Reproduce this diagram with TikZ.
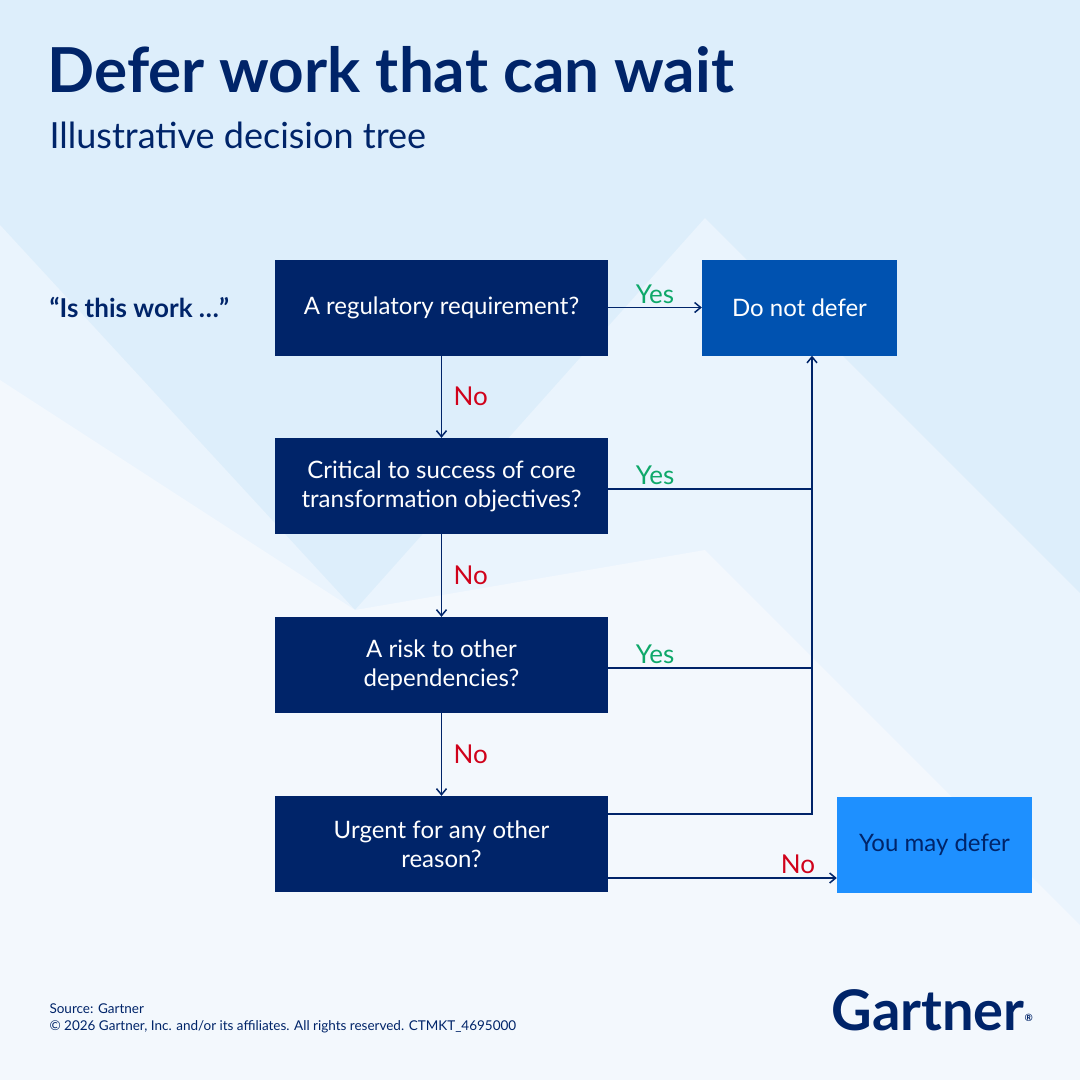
\documentclass[tikz,border=0pt]{standalone}
\usepackage{fontspec}
\setmainfont{Lato}
\usetikzlibrary{arrows.meta}
\definecolor{bgA}{HTML}{DDEEFB}
\definecolor{bgB}{HTML}{EAF4FD}
\definecolor{bgC}{HTML}{F3F8FD}
\definecolor{navy}{HTML}{002469}
\definecolor{midblue}{HTML}{0052B0}
\definecolor{brightblue}{HTML}{1E90FF}
\definecolor{yesc}{HTML}{0FA86A}
\definecolor{noc}{HTML}{D0021B}
\tikzset{
 q/.style={fill=navy,text=white,minimum width=333pt,minimum height=96pt,align=center,font=\fontsize{24}{29}\selectfont,inner sep=0pt},
 res/.style={minimum width=195pt,minimum height=96pt,text=white,font=\fontsize{24}{29}\selectfont,inner sep=0pt},
 con/.style={draw=navy,line width=1.5pt,-{Straight Barb[length=6pt,width=10pt]}},
 ln/.style={draw=navy,line width=1.5pt},
 yl/.style={text=yesc,font=\fontsize{26}{30}\selectfont},
 nl/.style={text=noc,font=\fontsize{26}{30}\selectfont},
}
\begin{document}
\begin{tikzpicture}[x=1pt,y=-1pt]
\fill[bgA] (0,0) rectangle (1080,1080);
\useasboundingbox (0,0) rectangle (1080,1080);
\fill[bgB] (0,225) -- (355,610) -- (705,218) -- (1080,593) -- (1080,1080) -- (0,1080) -- cycle;
\fill[bgC] (0,380) -- (355,610) -- (705,550) -- (1080,925) -- (1080,1080) -- (0,1080) -- cycle;
\node[anchor=west,text=navy,font=\bfseries\fontsize{62}{68}\selectfont] (title) at (44,70) {Defer work that can wait};
\node[anchor=west,text=navy,font=\fontsize{36}{40}\selectfont] (sub) at (46,135) {Illustrative decision tree};
\node[anchor=west,text=navy,font=\bfseries\fontsize{26}{30}\selectfont] (is) at (46,307) {“Is this work …”};
\node[q] (q1) at (441.5,307.5) {A regulatory requirement?};
\node[q] (q2) at (441.5,486) {Critical to success of core\\transformation objectives?};
\node[q] (q3) at (441.5,665) {A risk to other\\dependencies?};
\node[q] (q4) at (441.5,844) {Urgent for any other\\reason?};
\node[res,fill=midblue] (dnd) at (799.5,307.5) {Do not defer};
\node[res,fill=brightblue,text=navy] (ymd) at (934.5,844.5) {You may defer};
\draw[con] (q1.east) -- node[yl,above,pos=0.5] {Yes} (dnd.west);
\draw[con] (q1.south) -- node[nl,right=8pt] {No} (q2.north);
\draw[con] (q2.south) -- node[nl,right=8pt] {No} (q3.north);
\draw[con] (q3.south) -- node[nl,right=8pt] {No} (q4.north);
\coordinate (j2) at (812,489);
\coordinate (j3) at (812,668);
\coordinate (j4) at (812,814);
\draw[ln] (q2.east |- j2) -- node[yl,above,pos=0.23] {Yes} (j2);
\draw[ln] (q3.east |- j3) -- node[yl,above,pos=0.23] {Yes} (j3);
\draw[con] (q4.east |- j4) -- (j4) -- (j4 |- dnd.south);
\coordinate (n4) at (608,878);
\draw[con] (n4) -- node[nl,above,pos=0.83] {No} (n4 -| ymd.west);
\node[anchor=west,text=navy,font=\fontsize{13.5}{17}\selectfont,align=left] (src) at (46,1018) {Source: Gartner\\© 2026 Gartner, Inc. and/or its affiliates. All rights reserved. CTMKT\_4695000};
\node[anchor=east,text=navy,font=\bfseries\fontsize{56}{60}\selectfont] (logo) at (1037,1010) {Gartner\textsuperscript{\fontsize{10}{10}\selectfont ®}};
\end{tikzpicture}
\end{document}
